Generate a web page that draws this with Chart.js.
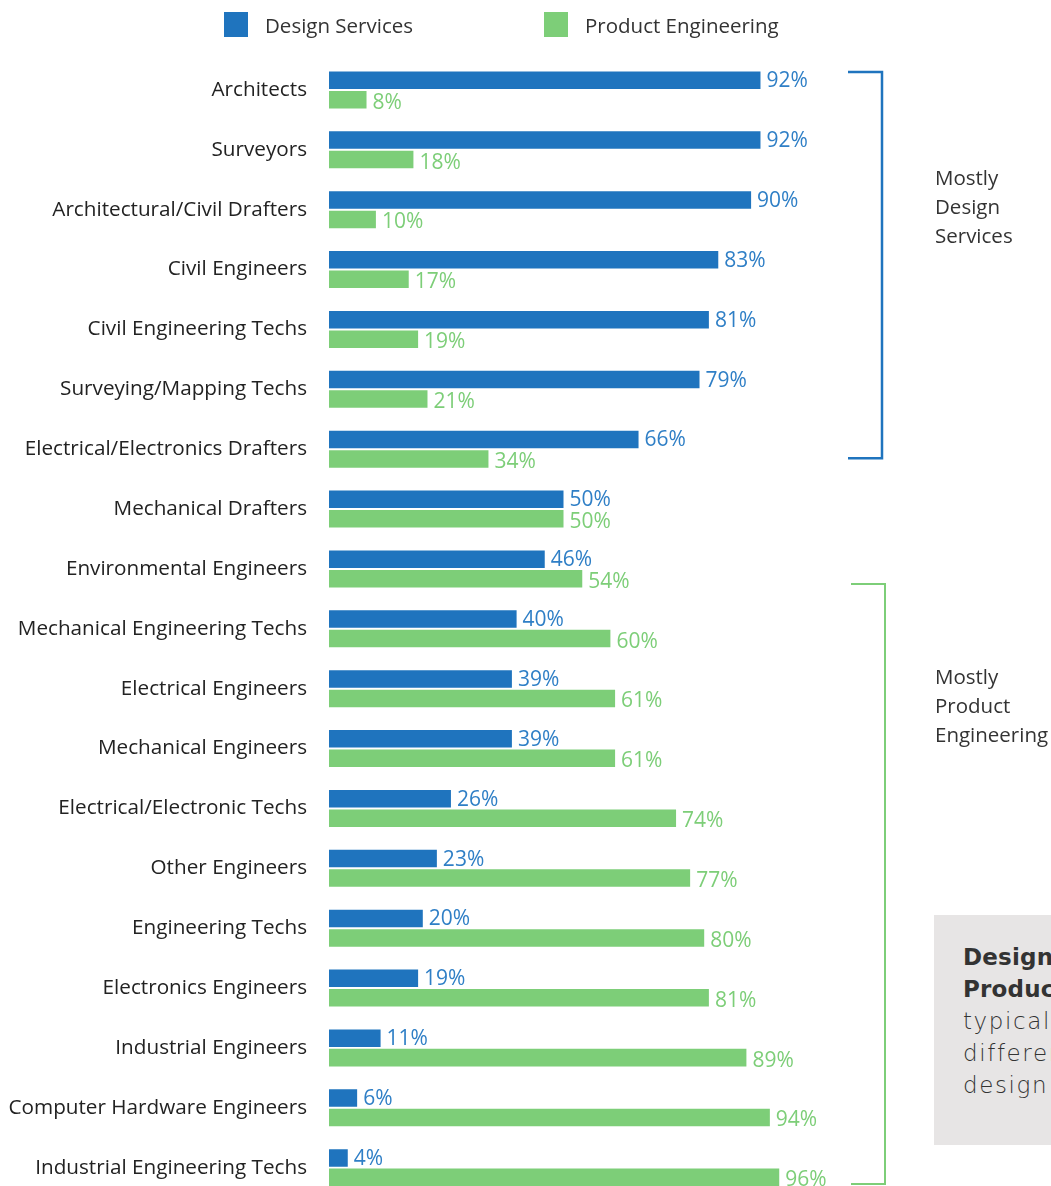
<!DOCTYPE html>
<html>
<head>
<meta charset="utf-8">
<script src="https://cdn.jsdelivr.net/npm/chart.js@4"></script>
<style>
  html, body { margin: 0; padding: 0; background: #fff; overflow: hidden; }
  #wrap { position: relative; width: 1051px; height: 1186px; overflow: hidden; font-family: "Open Sans", sans-serif; }
  #chart { position: absolute; left: 0; top: 0; }
  .leg { position: absolute; top: 12px; font-size: 20.5px; color: #333; line-height: 26px; }
  .leg span { display: inline-block; width: 24px; height: 25px; vertical-align: top; margin-right: 17px; }
  .note { position: absolute; left: 935px; font-size: 20.5px; line-height: 29px; color: #333; }
  #box { position: absolute; left: 934px; top: 915px; width: 130px; height: 230px; background: #e7e5e5; overflow: hidden; }
  #box div { position: absolute; left: 29px; top: 26px; width: 300px; font-family: "DejaVu Sans", sans-serif; font-weight: 200; font-size: 23px; line-height: 32px; color: #333; letter-spacing: 1.6px; }
  #box b { font-weight: bold; letter-spacing: 0.2px; }
</style>
</head>
<body>
<div id="wrap">
  <canvas id="chart" width="1051" height="1232"></canvas>
  <div class="leg" style="left:224px"><span style="background:#1f74be"></span>Design Services</div>
  <div class="leg" style="left:544px"><span style="background:#7dce78"></span>Product Engineering</div>
  <div class="note" style="top:163px">Mostly<br>Design<br>Services</div>
  <div class="note" style="top:662px">Mostly<br>Product<br>Engineering</div>
  <div id="box"><div><b>Design</b><br><b>Product</b><br>typically<br>different<br>design</div></div>
</div>
<script>
const occupations = [
  'Architects', 'Surveyors', 'Architectural/Civil Drafters', 'Civil Engineers',
  'Civil Engineering Techs', 'Surveying/Mapping Techs', 'Electrical/Electronics Drafters',
  'Mechanical Drafters', 'Environmental Engineers', 'Mechanical Engineering Techs',
  'Electrical Engineers', 'Mechanical Engineers', 'Electrical/Electronic Techs',
  'Other Engineers', 'Engineering Techs', 'Electronics Engineers', 'Industrial Engineers',
  'Computer Hardware Engineers', 'Industrial Engineering Techs'
];
const designServices = [92, 92, 90, 83, 81, 79, 66, 50, 46, 40, 39, 39, 26, 23, 20, 19, 11, 6, 4];
const productEngineering = [8, 18, 10, 17, 19, 21, 34, 50, 54, 60, 61, 61, 74, 77, 80, 81, 89, 94, 96];

const blue = '#1f74be';
const green = '#7dce78';

// value labels at the end of each bar + the two brackets on the right
const extras = {
  id: 'extras',
  afterDatasetsDraw(chart) {
    const ctx = chart.ctx;
    ctx.save();
    ctx.font = '21px "Open Sans", sans-serif';
    ctx.textBaseline = 'middle';
    ctx.textAlign = 'left';
    chart.data.datasets.forEach((ds, di) => {
      const meta = chart.getDatasetMeta(di);
      meta.data.forEach((bar, i) => {
        ctx.fillStyle = di === 0 ? '#2f7fc6' : green;
        ctx.fillText(ds.data[i] + '%', bar.x + 6, bar.y + (di === 0 ? 1 : 3));
      });
    });

    const y = chart.scales.y;
    ctx.lineWidth = 2.5;
    ctx.strokeStyle = blue;
    let t = y.getPixelForValue(0) - 18, b = y.getPixelForValue(6) + 9;
    ctx.beginPath();
    ctx.moveTo(848, t); ctx.lineTo(882, t); ctx.lineTo(882, b); ctx.lineTo(848, b);
    ctx.stroke();

    ctx.lineWidth = 2;
    ctx.strokeStyle = green;
    t = y.getPixelForValue(8) + 15; b = Math.min(y.getPixelForValue(18) + 20, 1184);
    ctx.beginPath();
    ctx.moveTo(851, t); ctx.lineTo(885, t); ctx.lineTo(885, b); ctx.lineTo(851, b);
    ctx.stroke();
    ctx.restore();
  }
};

new Chart(document.getElementById('chart'), {
  type: 'bar',
  data: {
    labels: occupations,
    datasets: [
      { label: 'Design Services', data: designServices, backgroundColor: blue },
      { label: 'Product Engineering', data: productEngineering, backgroundColor: green }
    ]
  },
  options: {
    indexAxis: 'y',
    responsive: false,
    animation: false,
    categoryPercentage: 0.65,
    barPercentage: 0.9,
    layout: { padding: { top: 60, right: 253, bottom: 0, left: 0 } },
    plugins: { legend: { display: false }, tooltip: { enabled: false } },
    scales: {
      x: { min: 0, max: 100, display: false },
      y: {
        grid: { display: false, drawTicks: false },
        border: { display: false },
        ticks: { padding: 22, color: '#222', font: { family: '"Open Sans", sans-serif', size: 20.7 } },
        afterFit(scale) { scale.width = 329; }
      }
    }
  },
  plugins: [extras]
});
</script>
</body>
</html>
